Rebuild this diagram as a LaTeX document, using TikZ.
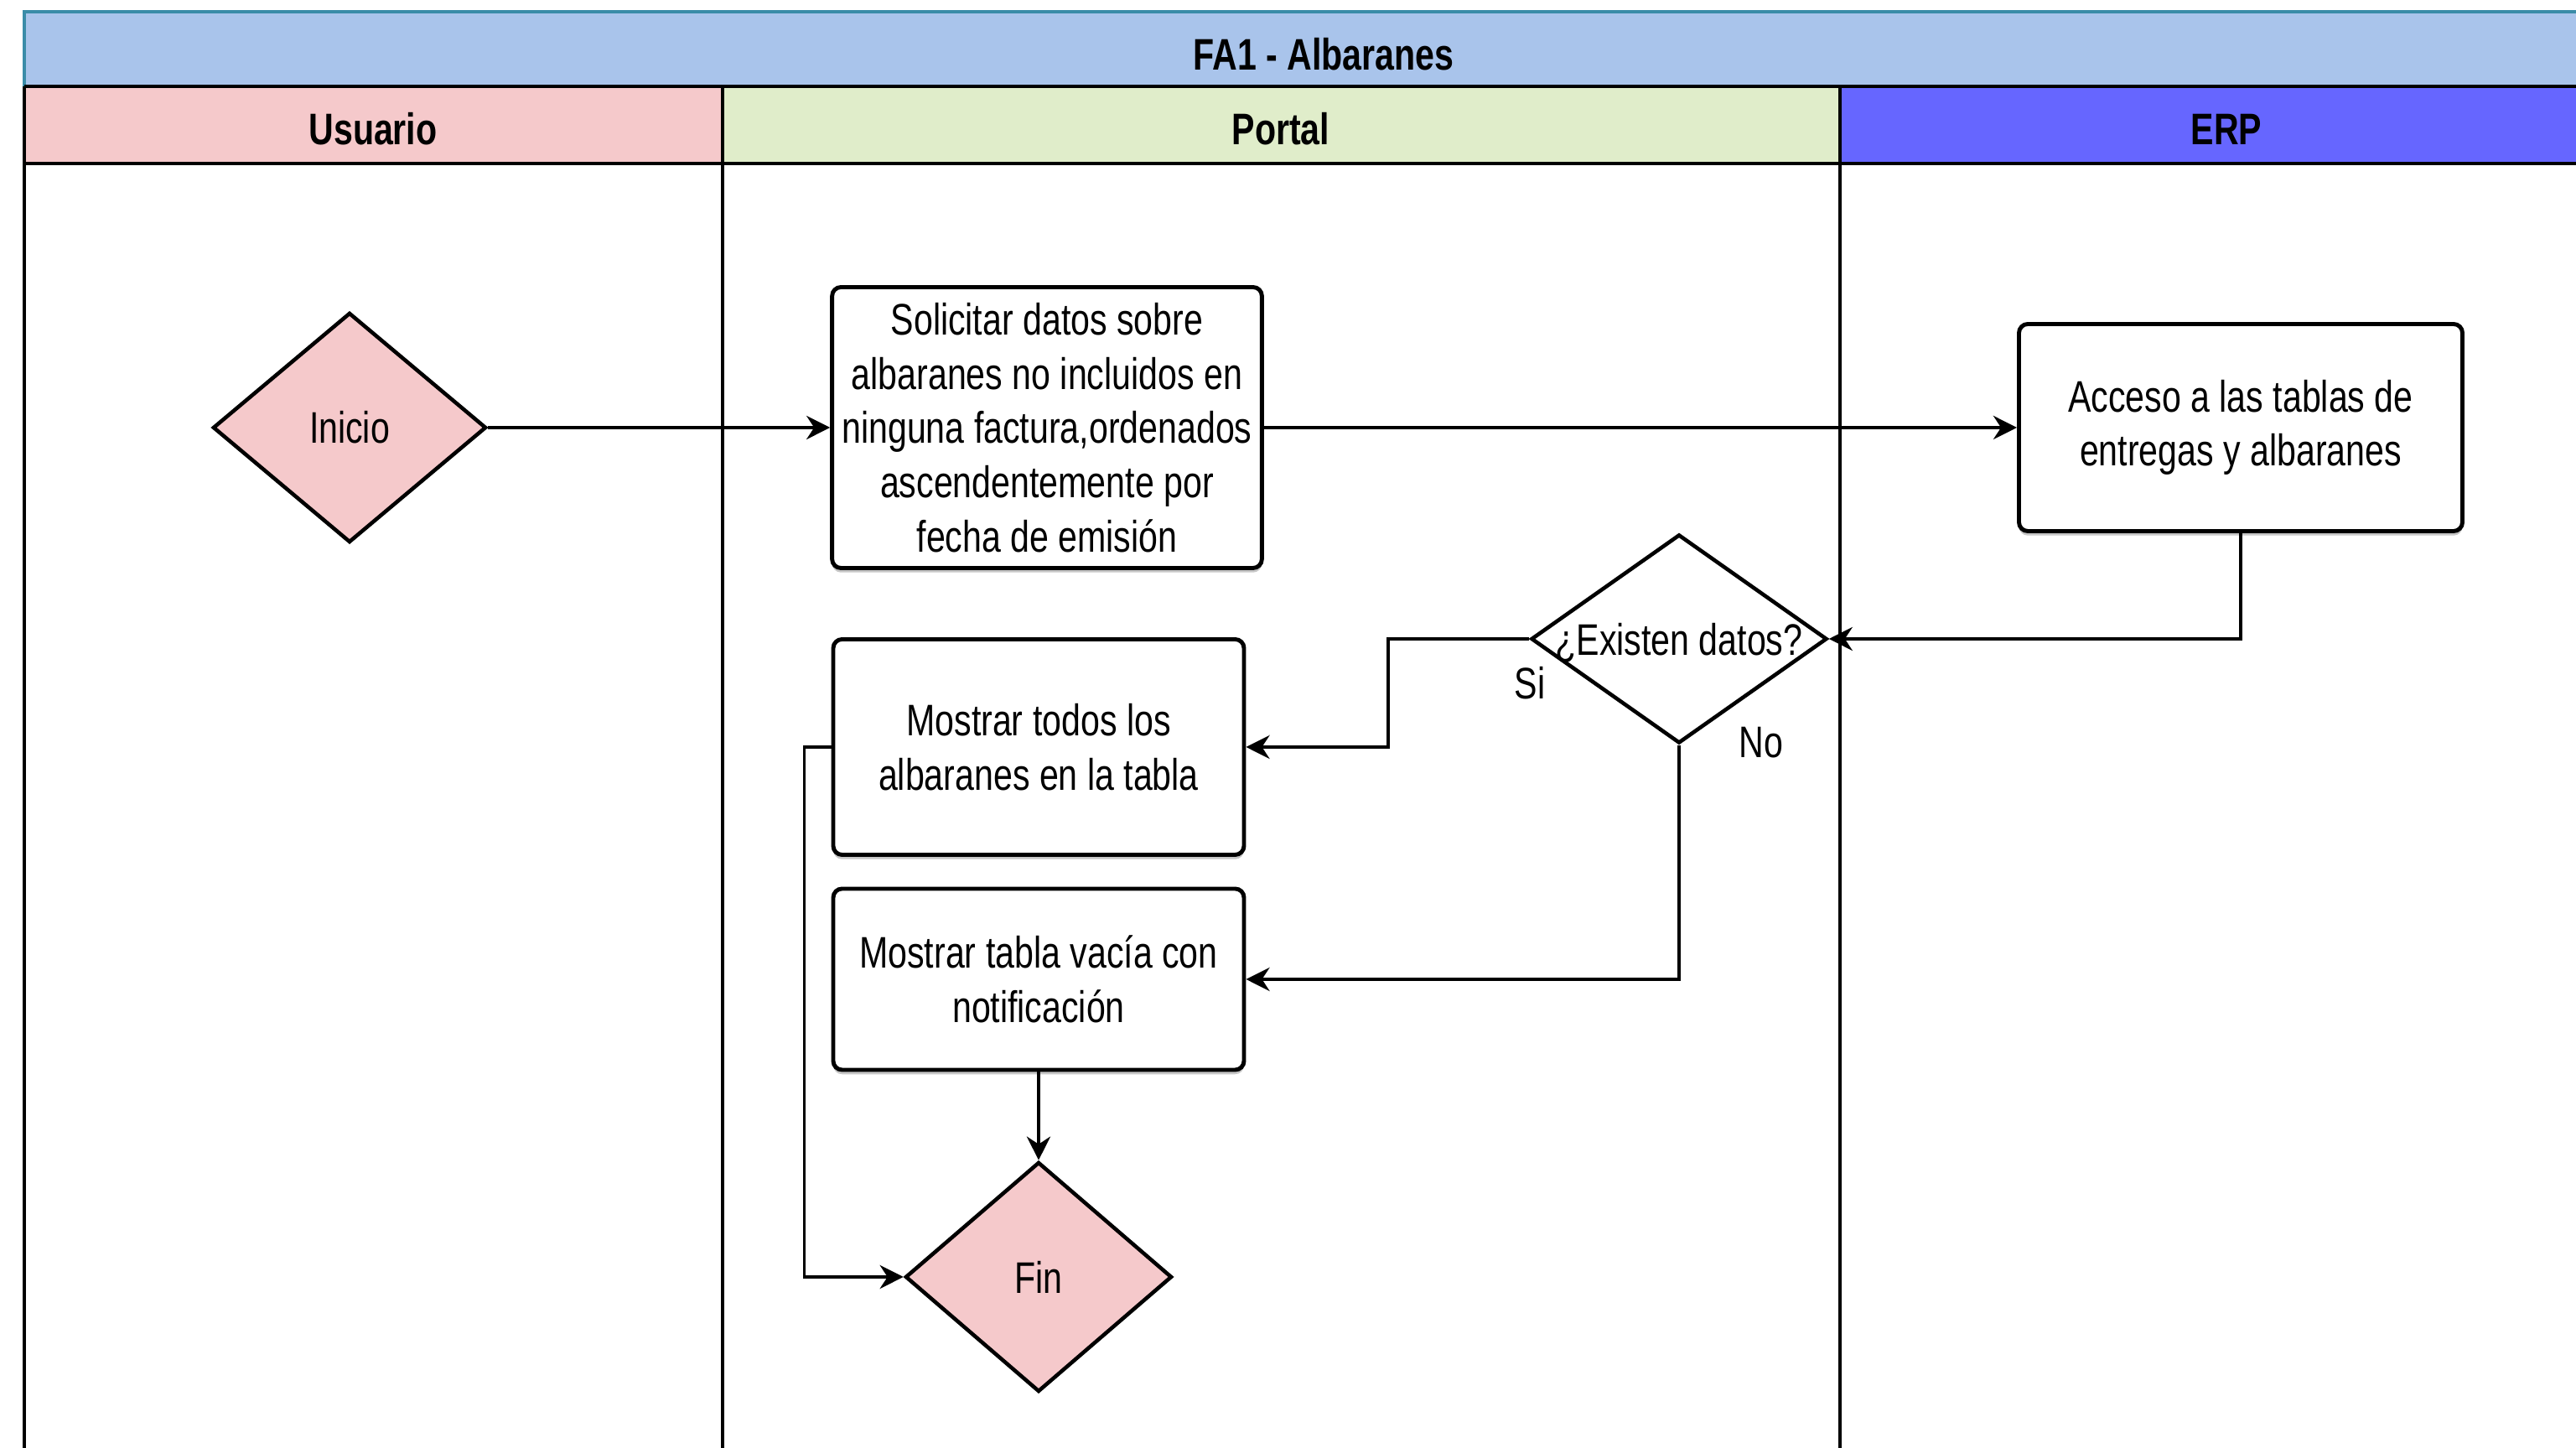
\documentclass[tikz,border=0pt]{standalone}
\usepackage{fontspec}
\setmainfont{Liberation Sans}[FakeStretch=0.78]
\usetikzlibrary{shapes.geometric,arrows.meta,shadows}

\definecolor{titlebg}{HTML}{A9C4EB}
\definecolor{titleline}{HTML}{3A8CA8}
\definecolor{usuariobg}{HTML}{F5C9CB}
\definecolor{portalbg}{HTML}{E0EDCA}
\definecolor{erpbg}{HTML}{6666FF}
\definecolor{decisionbg}{HTML}{F5C9CB}

\tikzset{
  proceso/.style={draw, line width=1.4pt, rounded corners=3pt, fill=white, align=center,
    drop shadow={shadow xshift=0pt, shadow yshift=-1.5pt, opacity=0.45}},
  decision/.style={draw, diamond, line width=1.3pt, inner sep=0pt, fill=white},
  flecha/.style={line width=1pt, -{Stealth[length=8pt,width=8pt]}},
  cabecera/.style={font=\fontsize{15}{18}\selectfont\bfseries},
}

\begin{document}
\begin{tikzpicture}[font=\fontsize{15}{18.4}\selectfont]
  \clip (0,0) rectangle (30.73,17.27);

  % --- cabecera ---
  \fill[titlebg] (0.29,16.24) rectangle (31.3,17.13);
  \draw[titleline, line width=1.2pt] (0.29,16.24) -- (0.29,17.13) -- (31.3,17.13);
  \node[cabecera] (titulo) at (15.79,16.62) {FA1 - Albaranes};

  % --- carriles ---
  \fill[usuariobg] (0.29,15.32) rectangle (8.62,16.24);
  \fill[portalbg] (8.62,15.32) rectangle (21.95,16.24);
  \fill[erpbg] (21.95,15.32) rectangle (31.3,16.24);
  \draw[line width=1.2pt] (0.29,16.24) -- (31.3,16.24)
                          (0.29,15.32) -- (31.3,15.32);
  \draw[line width=1pt] (0.29,16.24) -- (0.29,-0.1)
                        (8.62,16.24) -- (8.62,-0.1)
                        (21.95,16.24) -- (21.95,-0.1);
  \node[cabecera] (usuario) at (4.45,15.73) {Usuario};
  \node[cabecera] (portal) at (15.28,15.73) {Portal};
  \node[cabecera] (erp) at (26.56,15.73) {ERP};

  % --- nodos ---
  \node[decision, fill=decisionbg, minimum width=3.26cm, minimum height=2.74cm] (inicio) at (4.17,12.17) {Inicio};
  \node[proceso, minimum width=5.09cm, minimum height=3.35cm] (solicitar) at (12.49,12.17)
    {Solicitar datos sobre\\albaranes no incluidos en\\ninguna factura,ordenados\\ascendentemente por\\fecha de emisión};
  \node[proceso, minimum width=5.29cm, minimum height=2.47cm] (acceso) at (26.73,12.17)
    {Acceso a las tablas de\\entregas y albaranes};
  \node[decision, minimum width=3.53cm, minimum height=2.49cm,
        label={[yshift=-1.5pt]center:{¿Existen datos?}}] (existen) at (20.03,9.65) {};
  \node[proceso, minimum width=4.90cm, minimum height=2.57cm] (todos) at (12.39,8.36)
    {Mostrar todos los\\albaranes en la tabla};
  \node[proceso, minimum width=4.90cm, minimum height=2.16cm] (vacia) at (12.39,5.59)
    {Mostrar tabla vacía con\\notificación};
  \node[decision, fill=decisionbg, minimum width=3.18cm, minimum height=2.74cm] (fin) at (12.39,2.04) {Fin};

  % --- flechas ---
  \draw[flecha] (inicio) -- (solicitar);
  \draw[flecha] (solicitar) -- (acceso);
  \draw[flecha] (acceso.south) |- (existen.east);
  \draw[flecha] (existen.west) -- ++(-1.68,0) |- (todos.east);
  \draw[flecha] (existen.south) |- (vacia.east);
  \draw[flecha] (vacia.south) -- (fin.north);
  \draw[flecha] (todos.west) -- ++(-0.32,0) |- (fin.west);
  \node (si) at (18.25,9.12) {Si};
  \node (no) at (21.01,8.41) {No};
\end{tikzpicture}
\end{document}
